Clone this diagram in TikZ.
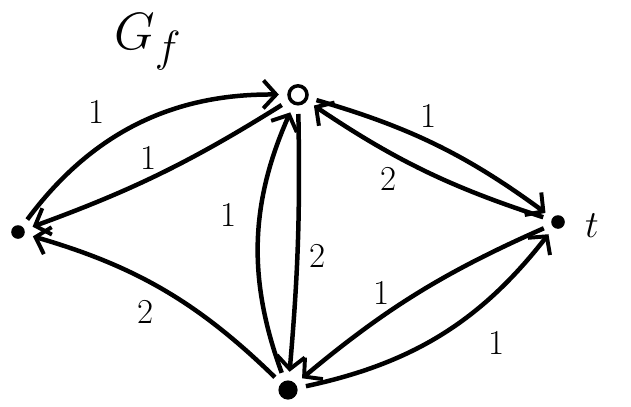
\documentclass[tikz,border=0pt]{standalone}
\usetikzlibrary{arrows.meta}

\begin{document}
\begin{tikzpicture}[
  dot/.style={circle,fill,inner sep=0pt,minimum size=3.4mm},
  bigdot/.style={circle,fill,inner sep=0pt,minimum size=4.8mm},
  src/.style={circle,draw,line width=2.5pt,inner sep=0pt,minimum width=4.5mm,minimum height=3.2mm},
  arr/.style={-{Straight Barb[length=3.2mm,width=7mm,line width=2.8pt]},line width=3.2pt,
              shorten >=6pt,shorten <=6pt},
  wt/.style={font=\Huge}
]
\useasboundingbox (0,0) rectangle (15.775,10.15);

\node[dot]    (l) at (0.45,4.35)  {};
\node[src]    (s) at (7.45,7.78)  {};
\node[dot]    (t) at (13.95,4.6)  {};
\node[bigdot] (b) at (7.2,0.4)    {};

\node[font=\Huge,scale=1.5] (gf) at (3.7,9.1) {$G_f$};
\node[font=\Huge,scale=1.1] (tl) at (14.8,4.5) {$t$};

\draw[arr] (l) to[bend left=27] node[wt,pos=0.42,above left=4pt] {1} (s);
\draw[arr] (s) to[bend left=6]  node[wt,pos=0.55,above=2pt] {1} (l);
\draw[arr] (s) to[bend left=10] node[wt,pos=0.4,above right=0pt] {1} (t);
\draw[arr] (t) to[bend left=8]  node[wt,pos=0.66,below=6pt] {2} (s);
\draw[arr] (s) to[bend left=3]  node[wt,pos=0.55,right=4pt] {2} (b);
\draw[arr] (b) to[bend left=22] node[wt,pos=0.6,left=12pt] {1} (s);
\draw[arr] (b) to[bend right=14] node[wt,pos=0.5,below left=2pt] {2} (l);
\draw[arr] (b) to[bend right=20] node[wt,pos=0.62,below right=8pt] {1} (t);
\draw[arr] (t) to[bend right=8] node[wt,pos=0.6,above left=-2pt] {1} (b);
\end{tikzpicture}
\end{document}
